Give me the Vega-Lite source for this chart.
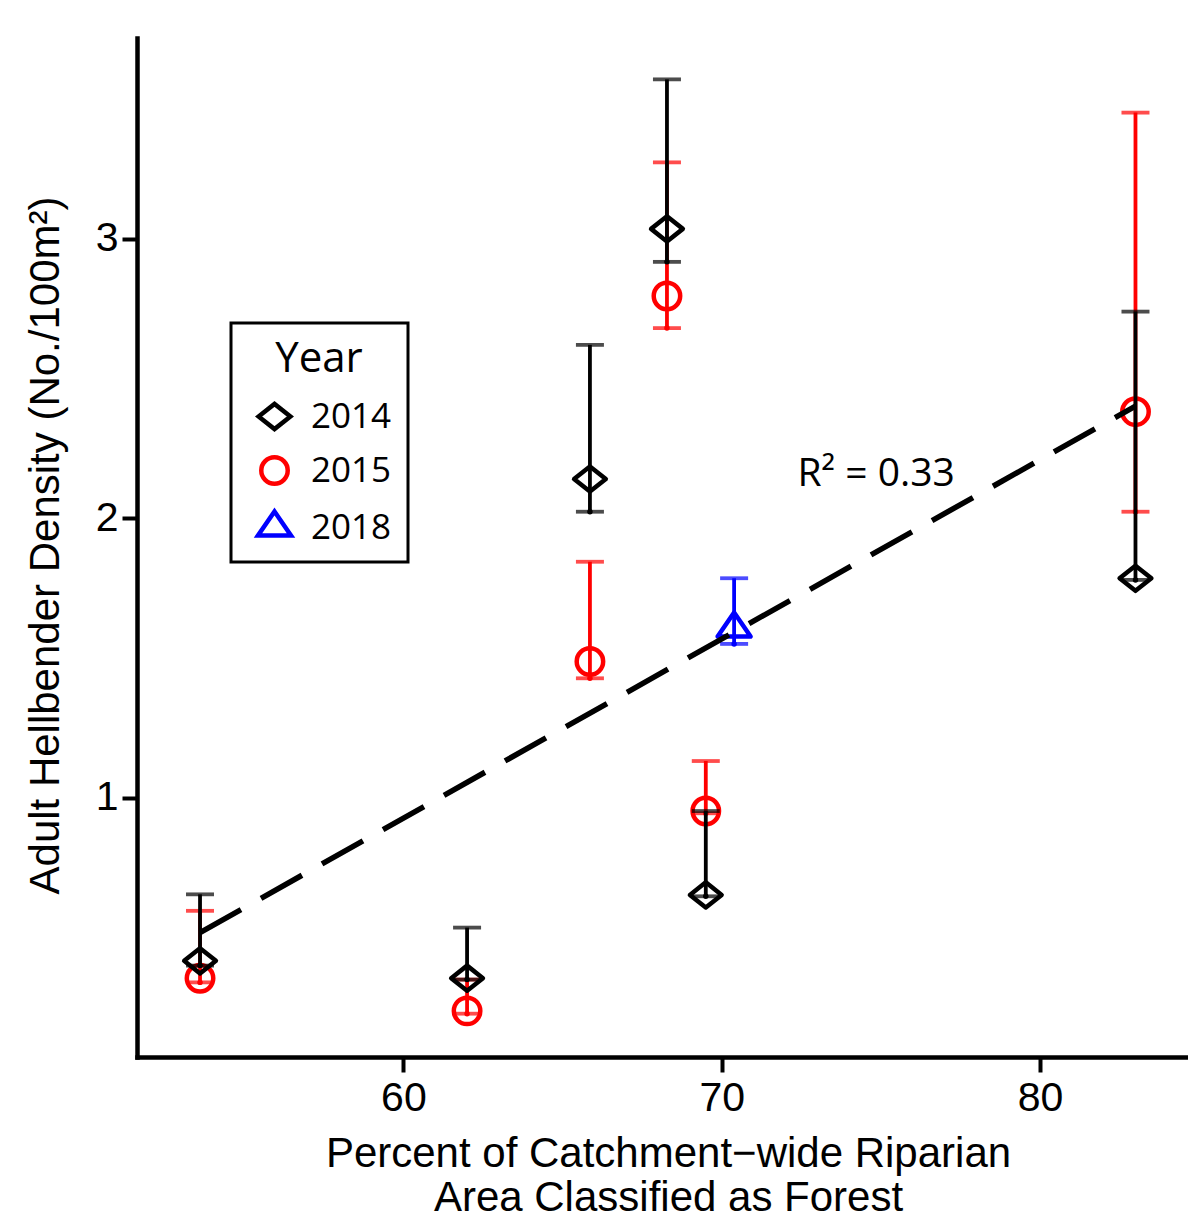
{
  "$schema": "https://vega.github.io/schema/vega-lite/v6.json",
  "width": 1051,
  "height": 1019,
  "autosize": "none",
  "padding": {"left": 137, "top": 38, "right": 0, "bottom": 161},
  "background": "white",
  "config": {
    "view": {"stroke": null},
    "axis": {
      "grid": false,
      "domainColor": "black",
      "domainWidth": 4.5,
      "domainCap": "square",
      "tickColor": "black",
      "tickWidth": 4,
      "tickSize": 15,
      "labelFont": "Liberation Sans",
      "labelFontSize": 41,
      "labelColor": "black",
      "titleFont": "Liberation Sans",
      "titleFontSize": 42,
      "titleFontWeight": "normal",
      "titleColor": "black"
    },
    "axisY": {
      "labelPadding": 4,
      "titleAngle": 270,
      "titleAlign": "center",
      "titleBaseline": "alphabetic",
      "titleX": -79,
      "titleY": 507
    },
    "legend": {
      "strokeWidth": 3,
      "symbolStrokeWidth": 4.5
    }
  },
  "datasets": {
    "density": [
      {"year": "2015", "forest": 53.61, "density": 0.355, "lower": 0.34, "upper": 0.596},
      {"year": "2015", "forest": 62.0, "density": 0.238, "lower": 0.228, "upper": 0.35},
      {"year": "2015", "forest": 65.86, "density": 1.488, "lower": 1.428, "upper": 1.845},
      {"year": "2015", "forest": 68.28, "density": 2.796, "lower": 2.681, "upper": 3.274},
      {"year": "2015", "forest": 69.5, "density": 0.953, "lower": 0.945, "upper": 1.132},
      {"year": "2015", "forest": 83.0, "density": 2.382, "lower": 2.024, "upper": 3.452},
      {"year": "2014", "forest": 53.61, "density": 0.417, "lower": 0.4, "upper": 0.655},
      {"year": "2014", "forest": 62.0, "density": 0.355, "lower": 0.35, "upper": 0.536},
      {"year": "2014", "forest": 65.86, "density": 2.141, "lower": 2.024, "upper": 2.621},
      {"year": "2014", "forest": 68.28, "density": 3.036, "lower": 2.918, "upper": 3.571},
      {"year": "2014", "forest": 69.5, "density": 0.653, "lower": 0.648, "upper": 0.953},
      {"year": "2014", "forest": 83.0, "density": 1.786, "lower": 1.78, "upper": 2.74},
      {"year": "2018", "forest": 70.39, "density": 1.606, "lower": 1.551, "upper": 1.786}
    ],
    "fit": [
      {"forest": 53.61, "fitted": 0.518},
      {"forest": 83.0, "fitted": 2.402}
    ],
    "note": [
      {"forest": 72.38, "density": 2.116, "text": "R² = 0.33"}
    ]
  },
  "encoding": {
    "x": {
      "field": "forest",
      "type": "quantitative",
      "scale": {"domain": [51.63, 84.65], "nice": false, "zero": false},
      "axis": {
        "orient": "bottom",
        "values": [60, 70, 80],
        "labelPadding": 6,
        "title": ["Percent of Catchment−wide Riparian", "Area Classified as Forest"],
        "titleBaseline": "alphabetic",
        "titleLineHeight": 44,
        "titleX": 531,
        "titleY": 109
      }
    },
    "y": {
      "field": "density",
      "type": "quantitative",
      "scale": {"domain": [0.073, 3.719], "nice": false, "zero": false},
      "axis": {"orient": "left", "values": [1, 2, 3], "title": "Adult Hellbender Density (No./100m²)"}
    }
  },
  "layer": [
    {
      "data": {"name": "density"},
      "encoding": {
        "color": {
          "field": "year",
          "type": "nominal",
          "scale": {"domain": ["2014", "2015", "2018"], "range": ["#000000", "#ff0000", "#0000ff"]},
          "legend": {
            "title": "Year",
            "orient": "none",
            "legendX": 94,
            "legendY": 285,
            "strokeColor": "black",
            "fillColor": "white",
            "padding": 16,
            "titleFont": "Open Sans",
            "titleFontSize": 42,
            "titleFontWeight": "normal",
            "titleColor": "black",
            "titleAnchor": "middle",
            "titlePadding": 18,
            "labelFont": "Open Sans",
            "labelFontSize": 35,
            "labelColor": "black",
            "labelOffset": 19,
            "symbolOffset": 10,
            "symbolSize": 700,
            "symbolStrokeWidth": 4.5,
            "symbolFillColor": "transparent",
            "rowPadding": 9,
            "encode": {
              "legend": {"strokeWidth": {"value": 3}},
              "symbols": {"fill": {"value": "transparent"}, "strokeWidth": {"value": 4.5}}
            }
          }
        },
        "shape": {
          "field": "year",
          "type": "nominal",
          "scale": {
            "domain": ["2014", "2015", "2018"],
            "range": ["M -1.2 0 L 0 -0.95 L 1.2 0 L 0 0.95 Z", "circle", "M 0 -1.21 L 1.247 0.605 L -1.247 0.605 Z"]
          },
          "legend": {
            "title": "Year",
            "orient": "none",
            "legendX": 94,
            "legendY": 285,
            "strokeColor": "black",
            "fillColor": "white",
            "padding": 16,
            "titleFont": "Open Sans",
            "titleFontSize": 42,
            "titleFontWeight": "normal",
            "titleColor": "black",
            "titleAnchor": "middle",
            "titlePadding": 18,
            "labelFont": "Open Sans",
            "labelFontSize": 35,
            "labelColor": "black",
            "labelOffset": 19,
            "symbolOffset": 10,
            "symbolSize": 700,
            "symbolStrokeWidth": 4.5,
            "symbolFillColor": "transparent",
            "rowPadding": 9,
            "encode": {
              "legend": {"strokeWidth": {"value": 3}},
              "symbols": {"fill": {"value": "transparent"}, "strokeWidth": {"value": 4.5}}
            }
          }
        }
      },
      "layer": [
        {
          "transform": [{"filter": "datum.year === '2015'"}],
          "layer": [
            {
              "mark": {"type": "rule", "strokeWidth": 3.8, "color": "#ff0000"},
              "encoding": {
                "color": {"value": "#ff0000"},
                "shape": {"value": "circle"},
                "y": {"field": "lower", "type": "quantitative", "scale": {"domain": [0.073, 3.719], "nice": false, "zero": false}, "axis": {"orient": "left", "values": [1, 2, 3], "title": "Adult Hellbender Density (No./100m²)"}},
                "y2": {"field": "upper"}
              }
            },
            {
              "transform": [{"fold": ["lower", "upper"], "as": ["bound", "limit"]}],
              "mark": {"type": "tick", "orient": "horizontal", "size": 28, "thickness": 3.8, "color": "#ff0000"},
              "encoding": {
                "color": {"value": "#ff0000"},
                "shape": {"value": "circle"},
                "y": {"field": "limit", "type": "quantitative", "scale": {"domain": [0.073, 3.719], "nice": false, "zero": false}, "axis": {"orient": "left", "values": [1, 2, 3], "title": "Adult Hellbender Density (No./100m²)"}}
              }
            },
            {"mark": {"type": "point", "filled": false, "strokeWidth": 4.5, "size": 700, "opacity": 1, "strokeJoin": "round"}}
          ]
        },
        {
          "transform": [{"filter": "datum.year === '2014'"}],
          "layer": [
            {
              "mark": {"type": "rule", "strokeWidth": 3.8, "color": "#000000"},
              "encoding": {
                "color": {"value": "#000000"},
                "shape": {"value": "circle"},
                "y": {"field": "lower", "type": "quantitative", "scale": {"domain": [0.073, 3.719], "nice": false, "zero": false}, "axis": {"orient": "left", "values": [1, 2, 3], "title": "Adult Hellbender Density (No./100m²)"}},
                "y2": {"field": "upper"}
              }
            },
            {
              "transform": [{"fold": ["lower", "upper"], "as": ["bound", "limit"]}],
              "mark": {"type": "tick", "orient": "horizontal", "size": 28, "thickness": 3.8, "color": "#000000"},
              "encoding": {
                "color": {"value": "#000000"},
                "shape": {"value": "circle"},
                "y": {"field": "limit", "type": "quantitative", "scale": {"domain": [0.073, 3.719], "nice": false, "zero": false}, "axis": {"orient": "left", "values": [1, 2, 3], "title": "Adult Hellbender Density (No./100m²)"}}
              }
            },
            {"mark": {"type": "point", "filled": false, "strokeWidth": 4.5, "size": 700, "opacity": 1, "strokeJoin": "round"}}
          ]
        },
        {
          "transform": [{"filter": "datum.year === '2018'"}],
          "layer": [
            {
              "mark": {"type": "rule", "strokeWidth": 3.8, "color": "#0000ff"},
              "encoding": {
                "color": {"value": "#0000ff"},
                "shape": {"value": "circle"},
                "y": {"field": "lower", "type": "quantitative", "scale": {"domain": [0.073, 3.719], "nice": false, "zero": false}, "axis": {"orient": "left", "values": [1, 2, 3], "title": "Adult Hellbender Density (No./100m²)"}},
                "y2": {"field": "upper"}
              }
            },
            {
              "transform": [{"fold": ["lower", "upper"], "as": ["bound", "limit"]}],
              "mark": {"type": "tick", "orient": "horizontal", "size": 28, "thickness": 3.8, "color": "#0000ff"},
              "encoding": {
                "color": {"value": "#0000ff"},
                "shape": {"value": "circle"},
                "y": {"field": "limit", "type": "quantitative", "scale": {"domain": [0.073, 3.719], "nice": false, "zero": false}, "axis": {"orient": "left", "values": [1, 2, 3], "title": "Adult Hellbender Density (No./100m²)"}}
              }
            },
            {"mark": {"type": "point", "filled": false, "strokeWidth": 4.5, "size": 700, "opacity": 1, "strokeJoin": "round"}}
          ]
        }
      ]
    },
    {
      "data": {"name": "fit"},
      "mark": {"type": "line", "color": "black", "strokeWidth": 5.5, "strokeDash": [47, 23], "strokeCap": "butt"},
      "encoding": {
        "y": {"field": "fitted", "type": "quantitative", "scale": {"domain": [0.073, 3.719], "nice": false, "zero": false}, "axis": {"orient": "left", "values": [1, 2, 3], "title": "Adult Hellbender Density (No./100m²)"}}
      }
    },
    {
      "data": {"name": "note"},
      "mark": {"type": "text", "align": "left", "baseline": "alphabetic", "font": "Open Sans", "fontSize": 39, "color": "black"},
      "encoding": {
        "text": {"field": "text"}
      }
    }
  ]
}
